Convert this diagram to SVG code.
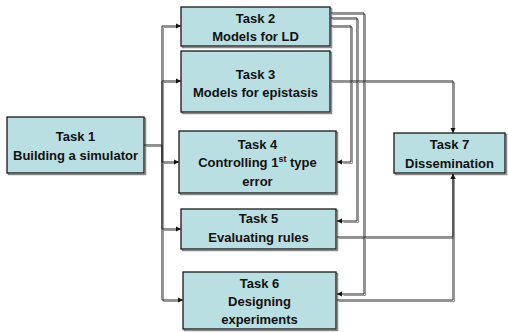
<svg xmlns="http://www.w3.org/2000/svg" width="508" height="332" viewBox="0 0 508 332">
<style>
.box{fill:#B9DFE2;stroke:#1a1a1a;stroke-width:1.3}
.shd{fill:none;stroke:#8a8a8a;stroke-width:1.5}
.t{font-family:"Liberation Sans",Arial,sans-serif;font-weight:bold;font-size:13px;fill:#111;text-anchor:middle}
.c{fill:none;stroke:#222;stroke-width:1}
.cs{fill:none;stroke:#9a9a9a;stroke-width:1}
</style>
<defs>
<marker id="ah" markerUnits="userSpaceOnUse" markerWidth="6" markerHeight="6" refX="5" refY="3" orient="auto">
<path d="M0,0.5 L5,3 L0,5.5 z" fill="#111"/>
</marker>
</defs>
<g id="connectors-shadow" transform="translate(1.5,1.5)">
<path class="cs" d="M144,145 H162 V26 H176"/>
<path class="cs" d="M162,145 V81 H176"/>
<path class="cs" d="M162,145 V162 H174"/>
<path class="cs" d="M162,145 V229 H176"/>
<path class="cs" d="M162,145 V300 H178"/>
<path class="cs" d="M331,26 H351 V162 H342"/>
<path class="cs" d="M331,18 H357 V221 H342"/>
<path class="cs" d="M331,13 H364 V294 H342"/>
<path class="cs" d="M331,81 H453 V128"/>
<path class="cs" d="M337,237 H453 V178"/>
<path class="cs" d="M337,300 H453 V237"/>
</g>
<g id="nodes">
<g id="task1">
<rect class="shd" x="8.5" y="118.5" width="137" height="56"/>
<rect class="box" x="7" y="117" width="137" height="56"/>
<text class="t" x="75.5" y="141">Task 1</text>
<text class="t" x="75.5" y="160">Building a simulator</text>
</g>
<g id="task2">
<rect class="shd" x="182.5" y="8.5" width="149" height="39"/>
<rect class="box" x="181" y="7" width="149" height="39"/>
<text class="t" x="255.5" y="23">Task 2</text>
<text class="t" x="255.5" y="41">Models for LD</text>
</g>
<g id="task3">
<rect class="shd" x="182.5" y="52.5" width="149" height="61"/>
<rect class="box" x="181" y="51" width="149" height="61"/>
<text class="t" x="255.5" y="79">Task 3</text>
<text class="t" x="255.5" y="97">Models for epistasis</text>
</g>
<g id="task4">
<rect class="shd" x="180.5" y="132.5" width="157" height="62"/>
<rect class="box" x="179" y="131" width="157" height="62"/>
<text class="t" x="257.5" y="149">Task 4</text>
<text class="t" x="257.5" y="167">Controlling 1<tspan font-size="9" dy="-5">st</tspan><tspan dy="5"> type</tspan></text>
<text class="t" x="257.5" y="186">error</text>
</g>
<g id="task5">
<rect class="shd" x="182.5" y="210.5" width="155" height="40"/>
<rect class="box" x="181" y="209" width="155" height="40"/>
<text class="t" x="258.5" y="223">Task 5</text>
<text class="t" x="258.5" y="242">Evaluating rules</text>
</g>
<g id="task6">
<rect class="shd" x="184.5" y="273.5" width="153" height="57"/>
<rect class="box" x="183" y="272" width="153" height="57"/>
<text class="t" x="259.5" y="288">Task 6</text>
<text class="t" x="259.5" y="306">Designing</text>
<text class="t" x="259.5" y="324">experiments</text>
</g>
<g id="task7">
<rect class="shd" x="395.5" y="134.5" width="111" height="40"/>
<rect class="box" x="394" y="133" width="111" height="40"/>
<text class="t" x="449.5" y="149">Task 7</text>
<text class="t" x="449.5" y="168">Dissemination</text>
</g>
</g>
<g id="connectors">
<path class="c" d="M144,145 H162 V26 H181" marker-end="url(#ah)"/>
<path class="c" d="M162,145 V81 H181" marker-end="url(#ah)"/>
<path class="c" d="M162,145 V162 H179" marker-end="url(#ah)"/>
<path class="c" d="M162,145 V229 H181" marker-end="url(#ah)"/>
<path class="c" d="M162,145 V300 H183" marker-end="url(#ah)"/>
<path class="c" d="M331,26 H351 V162 H337" marker-end="url(#ah)"/>
<path class="c" d="M331,18 H357 V221 H337" marker-end="url(#ah)"/>
<path class="c" d="M331,13 H364 V294 H337" marker-end="url(#ah)"/>
<path class="c" d="M331,81 H453 V133" marker-end="url(#ah)"/>
<path class="c" d="M337,237 H453 V174" marker-end="url(#ah)"/>
<path class="c" d="M337,300 H453 V174" marker-end="url(#ah)"/>
</g>
</svg>
